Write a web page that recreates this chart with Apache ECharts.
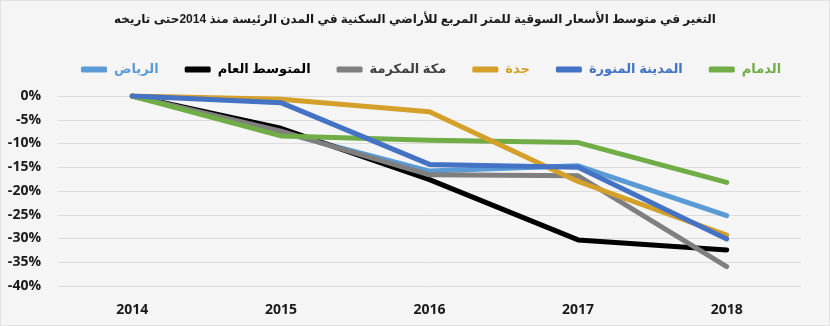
<!DOCTYPE html>
<html>
<head>
<meta charset="utf-8">
<script src="https://cdn.jsdelivr.net/npm/echarts@6/dist/echarts.min.js"></script>
<style>
  html, body { margin: 0; padding: 0; background: #f5f5f6; }
  #chart { width: 830px; height: 326px; box-sizing: border-box; border: 1px solid #e2e2e2; }
</style>
</head>
<body>
<div id="chart"></div>
<script>
// Years on the horizontal axis
const years = ['2014', '2015', '2016', '2017', '2018'];

// Change (%) in the average market price per square metre since 2014
const riyadh  = [0, -7.6, -15.8, -14.7, -25.2];
const average = [0, -6.8, -17.6, -30.3, -32.4];
const makkah  = [0, -7.4, -16.6, -16.8, -35.9];
const jeddah  = [0, -0.7, -3.3, -18.0, -29.3];
const madinah = [0, -1.4, -14.4, -15.0, -30.1];
const dammam  = [0, -8.4, -9.3, -9.8, -18.2];

// Series names (legend reads right-to-left)
const names = {
  riyadh: 'الرياض',
  average: 'المتوسط العام',
  makkah: 'مكة المكرمة',
  jeddah: 'جدة',
  madinah: 'المدينة المنورة',
  dammam: 'الدمام'
};
const legendKeys = ['riyadh', 'average', 'makkah', 'jeddah', 'madinah', 'dammam'];

const colors = {
  riyadh: '#5b9bd5',
  average: '#000000',
  makkah: '#7f7f7f',
  jeddah: '#d4a02a',
  madinah: '#4472c4',
  dammam: '#70ad47'
};
const legendTextColors = {
  riyadh: '#5b9bd5',
  average: '#000000',
  makkah: '#404040',
  jeddah: '#d4a02a',
  madinah: '#4472c4',
  dammam: '#70ad47'
};

const titleText = 'التغير في متوسط الأسعار السوقية للمتر المربع للأراضي السكنية في المدن الرئيسة منذ 2014حتى تاريخه';

const arabicFont = 'Arial, "DejaVu Sans", sans-serif';
const numFont = '"Liberation Sans Narrow", "Open Sans", Arial, sans-serif';

function line(key, data) {
  return {
    name: names[key],
    type: 'line',
    data: data,
    symbol: 'none',
    lineStyle: { width: 5, color: colors[key], cap: 'round', join: 'round' },
    itemStyle: { color: colors[key] }
  };
}

const chart = echarts.init(document.getElementById('chart'), null, { renderer: 'canvas' });
chart.setOption({
  backgroundColor: '#f5f5f6',
  animation: false,
  title: {
    text: titleText,
    left: 'center',
    top: 8,
    textStyle: { fontFamily: arabicFont, fontSize: 12, fontWeight: 'bold', color: '#1a1a1a' }
  },
  legend: {
    data: legendKeys.map(function (k) {
      return { name: names[k], textStyle: { color: legendTextColors[k] } };
    }),
    left: 75,
    top: 57,
    align: 'left',
    icon: 'roundRect',
    itemWidth: 26,
    itemHeight: 6,
    itemGap: 26,
    textStyle: { fontFamily: arabicFont, fontSize: 13, fontWeight: 'bold', padding: [0, 0, 0, 2] }
  },
  grid: { left: 57, right: 28, top: 95, bottom: 39, containLabel: false },
  xAxis: {
    type: 'category',
    data: years,
    boundaryGap: true,
    axisLine: { show: false },
    axisTick: { show: false },
    axisLabel: { margin: 17, fontFamily: numFont, fontSize: 14, fontWeight: 'bold', color: '#1a1a1a' }
  },
  yAxis: {
    type: 'value',
    min: -40,
    max: 0,
    interval: 5,
    axisLine: { show: false },
    axisTick: { show: false },
    splitLine: { lineStyle: { color: '#dcdcdc', width: 1 } },
    axisLabel: { margin: 17, formatter: '{value}%', fontFamily: numFont, fontSize: 14, fontWeight: 'bold', color: '#1a1a1a' }
  },
  series: [
    line('riyadh', riyadh),
    line('average', average),
    line('makkah', makkah),
    line('dammam', dammam),
    line('jeddah', jeddah),
    line('madinah', madinah)
  ]
});
</script>
</body>
</html>
